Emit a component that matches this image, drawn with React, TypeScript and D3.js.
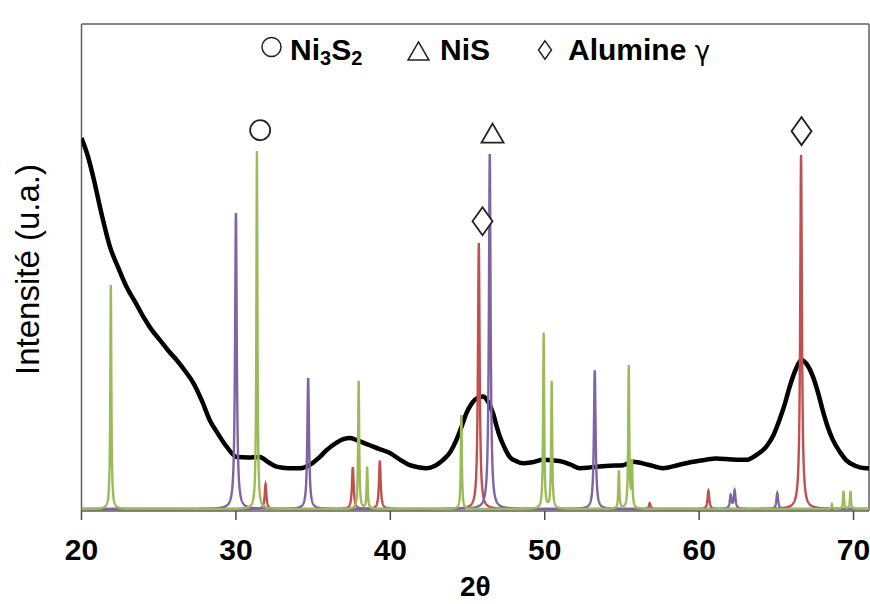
import React from 'react';
import * as d3 from 'd3';

const W = 870;
const H = 604;

// x-axis ticks (2θ)
const X_TICKS = [20, 30, 40, 50, 60, 70];

// measured diffractogram (black), 2θ and intensity (a.u.)
const SAMPLE_ANGLE = [
  20.0, 20.4, 20.76, 21.3, 21.84, 22.4, 22.92, 23.5, 24.0, 24.5, 25.08, 25.6, 26.16, 26.7, 27.24,
  27.8, 28.3, 28.85, 29.4, 30.05, 30.8, 31.55, 32.1, 32.63, 33.4, 34.14, 34.98, 35.4, 35.87, 36.5,
  37.0, 37.38, 37.8, 38.2, 38.67, 39.3, 39.97, 40.6, 41.26, 41.8, 42.34, 42.9, 43.42, 43.9, 44.28,
  44.6, 44.93, 45.2, 45.47, 45.75, 46.0, 46.3, 46.65, 46.85, 47.09, 47.4, 47.73, 48.1, 48.6, 49.2,
  49.89, 50.5, 51.18, 51.7, 52.27, 52.8, 53.35, 54.2, 55.07, 55.71, 56.7, 57.66, 58.6, 59.6, 60.4,
  61.11, 62.1, 63.05, 63.7, 64.35, 64.8, 65.2, 65.55, 65.86, 66.25, 66.62, 67.0, 67.37, 67.7, 68.0,
  68.3, 68.66, 69.1, 69.5, 70.1, 70.8, 71.0,
];
const SAMPLE_INTENSITY = [
  766, 730, 686, 610, 543, 498, 460, 428, 399, 374, 351, 330, 310, 288, 263,
  226, 187, 158, 132, 111, 110, 111, 100, 91, 88, 88, 99, 110, 125, 140,
  148, 150, 146, 141, 135, 127, 119, 106, 94, 90, 88, 93, 105, 122, 146,
  172, 201, 217, 228, 233, 235, 226, 201, 178, 153, 130, 111, 103, 98, 100,
  105, 104, 101, 95, 88, 89, 91, 93, 94, 101, 95, 88, 94, 101, 105,
  108, 106, 105, 115, 132, 155, 187, 220, 255, 290, 310, 300, 276, 243, 207,
  175, 146, 122, 105, 93, 88, 88,
];

// reference patterns: peak positions (2θ) and heights (a.u.)
const PATTERN_BASELINE = 4;

const GREEN_POS = [21.9, 31.36, 37.95, 38.5, 44.6, 49.93, 50.45, 54.8, 55.44, 55.65, 68.6, 69.35, 69.8];
const GREEN_HEIGHT = [460, 735, 263, 86, 193, 361, 261, 78, 292, 92, 10, 37, 37];

const PURPLE_POS = [30.0, 34.68, 46.44, 53.24, 62.04, 62.3, 65.06];
const PURPLE_HEIGHT = [608, 269, 729, 285, 27, 37, 33];

const RED_POS = [31.92, 37.57, 39.32, 45.73, 56.8, 60.6, 66.6];
const RED_HEIGHT = [51, 86, 99, 546, 12, 37, 727];

// phase markers on the plot
const MARKER_SHAPE = ['circle', 'triangle', 'diamond', 'diamond'];
const MARKER_ANGLE = [31.57, 46.62, 45.97, 66.63];
const MARKER_LEVEL = [782, 776, 595, 780];

const X_DOMAIN: [number, number] = [20, 71];
const Y_DOMAIN: [number, number] = [0, 1000];

const M = { left: 81.5, right: 869, top: 24, bottom: 511 };

function profile(pos: number[], height: number[], fwhm: number): [number, number][] {
  const pts: number[] = [];
  for (let t = X_DOMAIN[0]; t <= X_DOMAIN[1] + 1e-9; t += 0.01) pts.push(+t.toFixed(3));
  pos.forEach((p) => pts.push(p));
  pts.sort((a, b) => a - b);
  const hw = fwhm / 2;
  return pts.map((t) => {
    let v = PATTERN_BASELINE;
    for (let i = 0; i < pos.length; i++) {
      const u = (t - pos[i]) / hw;
      v += height[i] / (1 + u * u);
    }
    return [t, v];
  });
}

function Marker({ shape, cx, cy, s, sw = 1.8 }: { shape: string; cx: number; cy: number; s: number; sw?: number }) {
  const stroke = '#222';
  if (shape === 'circle') {
    return <circle cx={cx} cy={cy} r={10 * s} fill="white" stroke={stroke} strokeWidth={sw} />;
  }
  if (shape === 'triangle') {
    const w = 22 * s, h = 19 * s;
    return (
      <path
        d={`M${cx},${cy - h / 2}L${cx + w / 2},${cy + h / 2}L${cx - w / 2},${cy + h / 2}Z`}
        fill="white"
        stroke={stroke}
        strokeWidth={sw}
      />
    );
  }
  const w = 20 * s, h = 28 * s;
  return (
    <path
      d={`M${cx},${cy - h / 2}L${cx + w / 2},${cy}L${cx},${cy + h / 2}L${cx - w / 2},${cy}Z`}
      fill="white"
      stroke={stroke}
      strokeWidth={sw}
    />
  );
}

export default function App() {
  const x = d3.scaleLinear().domain(X_DOMAIN).range([M.left, M.right]);
  const y = d3.scaleLinear().domain(Y_DOMAIN).range([M.bottom, M.top]);

  const line = d3
    .line<[number, number]>()
    .x((d) => x(d[0]))
    .y((d) => y(d[1]));

  const sample: [number, number][] = SAMPLE_ANGLE.map((a, i) => [a, SAMPLE_INTENSITY[i]]);
  const sampleLine = d3
    .line<[number, number]>()
    .x((d) => x(d[0]))
    .y((d) => y(d[1]))
    .curve(d3.curveMonotoneX);

  const red = profile(RED_POS, RED_HEIGHT, 0.13);
  const purple = profile(PURPLE_POS, PURPLE_HEIGHT, 0.13);
  const green = profile(GREEN_POS, GREEN_HEIGHT, 0.08);

  const font = "'Liberation Sans', Arial, sans-serif";

  return (
    <svg
      width={W}
      height={H}
      style={{ position: 'absolute', left: 0, top: 0, background: 'white' }}
      fontFamily={font}
    >
      <defs>
        <clipPath id="plot">
          <rect x={M.left} y={M.top - 2} width={M.right - M.left} height={M.bottom - M.top + 4} />
        </clipPath>
      </defs>

      {/* legend */}
      <g>
        <Marker shape="circle" cx={271.5} cy={47} s={0.95} sw={1.5} />
        <text x={290} y={60} fontSize={30} fontWeight="bold" fill="#000">
          Ni
          <tspan fontSize={20} dy={5}>3</tspan>
          <tspan fontSize={30} dy={-5}>S</tspan>
          <tspan fontSize={20} dy={5}>2</tspan>
        </text>
        <Marker shape="triangle" cx={418.5} cy={51} s={0.95} sw={1.5} />
        <text x={440} y={60} fontSize={30} fontWeight="bold" fill="#000">
          NiS
        </text>
        <Marker shape="diamond" cx={545} cy={50} s={0.65} sw={1.5} />
        <text x={568} y={60} fontSize={30} fontWeight="bold" fill="#000">
          Alumine{' '}
          <tspan fontWeight="normal" fontSize={26} fontFamily="'DejaVu Sans', sans-serif">γ</tspan>
        </text>
      </g>

      {/* frame */}
      <line x1={M.left} x2={M.right} y1={M.top} y2={M.top} stroke="#5f5f5f" strokeWidth={1.5} />
      <line x1={M.right} x2={M.right} y1={M.top} y2={M.bottom} stroke="#5f5f5f" strokeWidth={1.5} />
      <line x1={M.left} x2={M.left} y1={M.top} y2={M.bottom} stroke="#5f5f5f" strokeWidth={1.5} />

      {/* data */}
      <g clipPath="url(#plot)">
        <path d={sampleLine(sample) || ''} fill="none" stroke="#000" strokeWidth={4.5} strokeLinejoin="round" />
        <path d={line(red) || ''} fill="none" stroke="#C0504D" strokeWidth={2.4} />
        <path d={line(purple) || ''} fill="none" stroke="#8064A2" strokeWidth={2.4} />
        <path d={line(green) || ''} fill="none" stroke="#9BBB59" strokeWidth={2.4} />
      </g>

      {/* x axis */}
      <line x1={M.left} x2={M.right} y1={M.bottom} y2={M.bottom} stroke="#5f5f5f" strokeWidth={1.5} />
      {X_TICKS.map((t) => (
        <g key={t}>
          <line x1={x(t)} x2={x(t)} y1={M.bottom} y2={M.bottom + 9} stroke="#4a4a4a" strokeWidth={1.5} />
          <text x={x(t)} y={560} textAnchor="middle" fontSize={30} fontWeight="bold" fill="#000">
            {t}
          </text>
        </g>
      ))}
      <text x={(M.left + M.right) / 2} y={596} textAnchor="middle" fontSize={28} fontWeight="bold" fill="#000">
        2θ
      </text>

      {/* y axis label */}
      <text
        transform={`translate(39,${(M.top + M.bottom) / 2 + 2}) rotate(-90)`}
        textAnchor="middle"
        fontSize={33}
        fill="#000"
      >
        Intensité (u.a.)
      </text>

      {/* markers */}
      {MARKER_SHAPE.map((s, i) => (
        <Marker key={i} shape={s} cx={x(MARKER_ANGLE[i])} cy={y(MARKER_LEVEL[i])} s={1} />
      ))}
    </svg>
  );
}
